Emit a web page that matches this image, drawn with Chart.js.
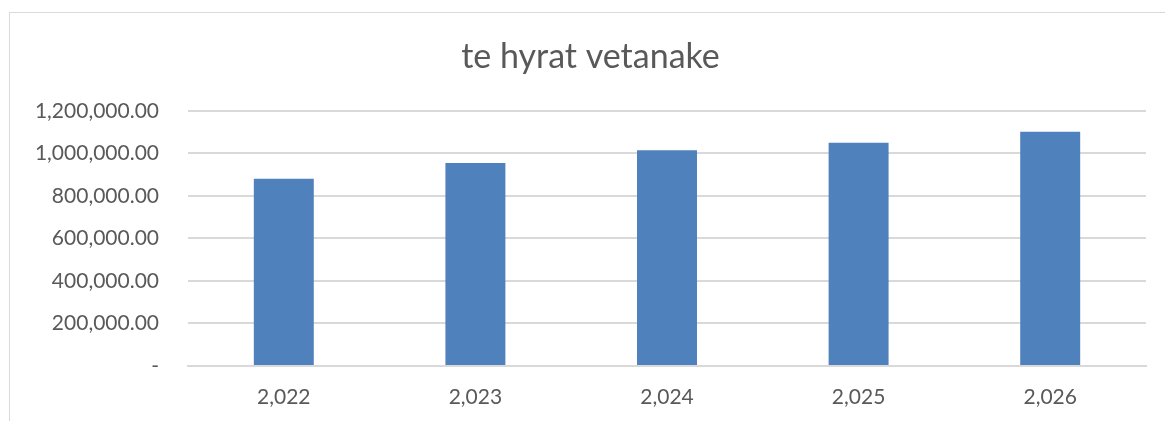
<!DOCTYPE html>
<html>
<head>
<meta charset="utf-8">
<script src="https://cdn.jsdelivr.net/npm/chart.js@4.4.1/dist/chart.umd.min.js"></script>
<style>
  html, body { margin: 0; padding: 0; background: #fff; overflow: hidden; }
  body { width: 1165px; height: 421px; position: relative; }
  /* chart frame: starts a little in from the corner, runs off right/bottom */
  .frame {
    position: absolute; left: 9px; top: 12px;
    width: 1170px; height: 420px;
    border: 1px solid #d9d9d9; box-sizing: border-box;
  }
  .wrap { position: absolute; left: 9px; top: 12px; width: 1156px; height: 409px; }
</style>
</head>
<body>
<div class="frame"></div>
<div class="wrap"><canvas id="chart"></canvas></div>
<script>
// yearly income, one bar per year
const years = ["2,022", "2,023", "2,024", "2,025", "2,026"];
const income = [880000, 955000, 1014000, 1050000, 1102000];
const yTicks = [0, 200000, 400000, 600000, 800000, 1000000, 1200000];

const TEXT = "#595959";
const GRID = "#d9d9d9";
const FONT = "Lato, 'Open Sans', sans-serif";

const fmtTick = (v) =>
  v === 0 ? "-" : v.toLocaleString("en-US", { minimumFractionDigits: 2, maximumFractionDigits: 2 });

new Chart(document.getElementById("chart"), {
  type: "bar",
  data: {
    labels: years,
    datasets: [{
      label: "te hyrat vetanake",
      data: income,
      backgroundColor: "#4f81bd",
      borderWidth: 0,
      categoryPercentage: 1,
      barPercentage: 0.313,
    }],
  },
  options: {
    responsive: true, maintainAspectRatio: false, animation: false,
    // left padding pushes the title centre right; y axis width makes up the rest
    layout: { padding: { left: 26, right: 19, top: 0, bottom: 0 } },
    plugins: {
      legend: { display: false },
      tooltip: { enabled: false },
      title: {
        display: true, text: "te hyrat vetanake", color: TEXT,
        font: { family: FONT, size: 34, weight: "normal" },
        padding: { top: 25, bottom: 33 },
      },
    },
    scales: {
      x: {
        grid: { display: false, drawTicks: false },
        border: { display: true, color: GRID, width: 2 },
        ticks: { color: TEXT, padding: 19, font: { family: FONT, size: 21 } },
        afterFit: (s) => { s.height = 55; },
      },
      y: {
        min: 0, max: 1200000,
        afterBuildTicks: (s) => { s.ticks = yTicks.map((v) => ({ value: v })); },
        grid: { color: GRID, lineWidth: 2, drawTicks: false },
        border: { display: false },
        ticks: { color: TEXT, padding: 29, font: { family: FONT, size: 21 }, callback: fmtTick },
        afterFit: (s) => { s.width = 153; },
      },
    },
  },
});
</script>
</body>
</html>
